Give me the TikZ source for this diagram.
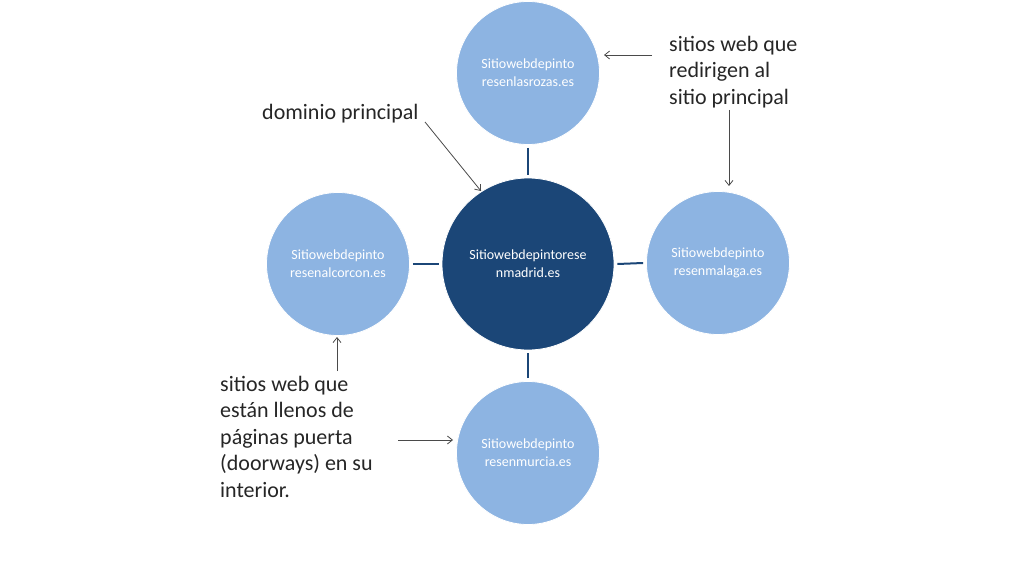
\documentclass[tikz,border=0pt]{standalone}
\usepackage{fontspec}
\setmainfont{Carlito}
\usetikzlibrary{arrows.meta}
\definecolor{darkblue}{HTML}{1B4677}
\definecolor{lightblue}{HTML}{8DB4E2}
\definecolor{arrowgray}{HTML}{4A4A4A}
\begin{document}
\begin{tikzpicture}[x=1pt,y=-1pt,
  outer/.style={circle,fill=lightblue,draw=white,line width=0.8pt,minimum size=143pt,inner sep=0pt,
    text=white,font=\fontsize{14}{18}\selectfont,align=center},
  inner/.style={circle,fill=darkblue,draw=white,line width=0.8pt,minimum size=172pt,inner sep=0pt,
    text=white,font=\fontsize{14}{18}\selectfont,align=center},
  link/.style={draw=darkblue,line width=2pt},
  note/.style={font=\fontsize{22}{26.4}\selectfont,text=black!85,align=left,inner sep=0pt},
  pointer/.style={draw=arrowgray,line width=0.8pt,-{Straight Barb[length=5pt,width=8pt]}}
]
\useasboundingbox (0,0) rectangle (1033,572);
\fill[white] (0,0) rectangle (1033,572);

\node[inner] (c) at (528,264) {Sitiowebdepintorese\\nmadrid.es};
\node[outer] (t) at (528,73) {Sitiowebdepinto\\resenlasrozas.es};
\node[outer] (r) at (718,263) {Sitiowebdepinto\\resenmalaga.es};
\node[outer] (l) at (338,264) {Sitiowebdepinto\\resenalcorcon.es};
\node[outer] (b) at (528,453) {Sitiowebdepinto\\resenmurcia.es};

\draw[link] ([yshift=-3pt]t.south) -- ([yshift=3pt]c.north);
\draw[link] ([yshift=3pt]b.north) -- ([yshift=-3pt]c.south);
\draw[link] ([xshift=3pt]l.east) -- ([xshift=-3pt]c.west);
\draw[link] ([xshift=-3pt]r.west) -- ([xshift=3pt]c.east);

\node[note,anchor=base west] (dp) at (262,120) {dominio principal};
\node[note,anchor=north west] (sr) at (669,36) {sitios web que\\redirigen al\\sitio principal};
\node[note,anchor=north west] (sd) at (220,376) {sitios web que\\están llenos de\\páginas puerta\\(doorways) en su\\interior.};

\coordinate (a1s) at (425,122);
\coordinate (a1e) at (481,191);
\coordinate (a2s) at (652,55);
\coordinate (a2e) at (604,55);
\coordinate (a3s) at (729,110);
\coordinate (a3e) at (729,186);
\coordinate (a4s) at (337,371);
\coordinate (a4e) at (337,337);
\coordinate (a5s) at (398,440);
\coordinate (a5e) at (453,440);

\draw[pointer] (a1s) -- (a1e);
\draw[pointer] (a2s) -- (a2e);
\draw[pointer] (a3s) -- (a3e);
\draw[pointer] (a4s) -- (a4e);
\draw[pointer] (a5s) -- (a5e);
\end{tikzpicture}
\end{document}
